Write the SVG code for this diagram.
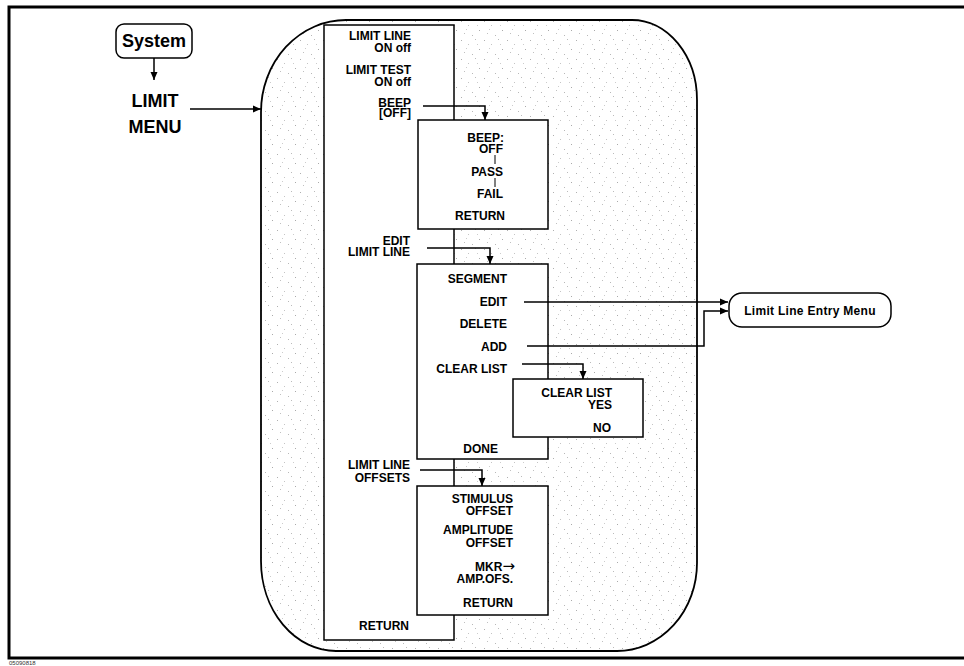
<svg xmlns="http://www.w3.org/2000/svg" width="964" height="666" viewBox="0 0 964 666">
<defs>
<style>
.t{font-family:"Liberation Sans",Arial,sans-serif;font-weight:bold;font-size:12px;fill:#000;text-anchor:end}
.big{font-family:"Liberation Sans",Arial,sans-serif;font-weight:bold;font-size:18px;fill:#000;text-anchor:middle}
.box{fill:#fff;stroke:#000;stroke-width:1.5}
.ln{fill:none;stroke:#000;stroke-width:1.5}
.ar{font-family:"DejaVu Sans",sans-serif;font-weight:normal;font-size:15px}
</style>
<pattern id="stip" width="23" height="19" patternUnits="userSpaceOnUse">
<rect width="23" height="19" fill="#fff"/>
<rect x="1" y="2" width="1" height="1" fill="#b0b0b0"/>
<rect x="8" y="6" width="1" height="1" fill="#c4c4c4"/>
<rect x="15" y="1" width="1" height="1" fill="#bbb"/>
<rect x="19" y="11" width="1" height="1" fill="#aaa"/>
<rect x="4" y="14" width="1" height="1" fill="#c0c0c0"/>
<rect x="12" y="16" width="1" height="1" fill="#b8b8b8"/>
<rect x="17" y="6" width="1" height="1" fill="#ccc"/>
<rect x="6" y="10" width="1" height="1" fill="#ccc"/>
</pattern>
<marker id="ah" viewBox="0 0 8 8" refX="8" refY="4" markerWidth="8" markerHeight="8" markerUnits="userSpaceOnUse" orient="auto">
<path d="M0,0.5 L8,4 L0,7.5 z" fill="#000"/>
</marker>
</defs>

<rect x="9" y="7" width="962" height="651" fill="none" stroke="#000" stroke-width="3"/>
<text x="9" y="665" style="font-family:'Liberation Sans',Arial,sans-serif;font-size:6px;fill:#333">05090818</text>

<g id="system">
<rect x="116" y="24" width="76" height="34" rx="8" class="box"/>
<text x="154" y="47" style="font-family:'Liberation Sans',Arial,sans-serif;font-weight:bold;font-size:18px;text-anchor:middle">System</text>
</g>

<g id="limit-menu-label">
<text x="155" y="107" class="big">LIMIT</text>
<text x="155" y="133" class="big">MENU</text>
</g>

<g id="region">
<path d="M346,20 H632 A65,80 0 0 1 697,100 V563 A80,88 0 0 1 617,651 H336 A75,90 0 0 1 261,561 V112 A85,92 0 0 1 346,20 Z" fill="url(#stip)" stroke="#000" stroke-width="1.8"/>
</g>

<g id="limit-menu">
<rect x="324" y="25" width="130" height="615" class="box"/>
<text x="411" y="40" class="t">LIMIT LINE</text>
<text x="411" y="51.5" class="t">ON off</text>
<text x="411" y="74" class="t">LIMIT TEST</text>
<text x="411" y="85.5" class="t">ON off</text>
<text x="411" y="106.5" class="t">BEEP</text>
<text x="411" y="117" class="t">[OFF]</text>
<text x="410" y="244.5" class="t">EDIT</text>
<text x="410" y="256" class="t">LIMIT LINE</text>
<text x="410" y="469" class="t">LIMIT LINE</text>
<text x="410" y="481.5" class="t">OFFSETS</text>
<text x="409" y="630" class="t">RETURN</text>
</g>

<g id="beep-menu">
<rect x="418" y="120" width="130" height="109" class="box"/>
<text x="504" y="141.5" class="t">BEEP:</text>
<text x="503" y="153" class="t">OFF</text>
<line x1="495" y1="155" x2="495" y2="164" stroke="#000" stroke-width="1"/>
<text x="503" y="175.5" class="t">PASS</text>
<line x1="495" y1="178" x2="495" y2="187" stroke="#000" stroke-width="1"/>
<text x="503" y="197.5" class="t">FAIL</text>
<text x="505" y="219.5" class="t">RETURN</text>
</g>

<g id="segment-menu">
<rect x="417" y="264" width="131" height="195" class="box"/>
<text x="507" y="282.5" class="t">SEGMENT</text>
<text x="507" y="305.5" class="t">EDIT</text>
<text x="507" y="327.5" class="t">DELETE</text>
<text x="507" y="350.5" class="t">ADD</text>
<text x="507" y="372.5" class="t">CLEAR LIST</text>
<text x="498" y="452.5" class="t">DONE</text>
</g>

<g id="clear-list-menu">
<rect x="513" y="379" width="130" height="58" class="box"/>
<text x="612" y="397" class="t">CLEAR LIST</text>
<text x="612" y="409" class="t">YES</text>
<text x="611" y="431.5" class="t">NO</text>
</g>

<g id="offsets-menu">
<rect x="417" y="486" width="131" height="129" class="box"/>
<text x="513" y="502.5" class="t">STIMULUS</text>
<text x="513" y="515" class="t">OFFSET</text>
<text x="513" y="534" class="t">AMPLITUDE</text>
<text x="513" y="546.5" class="t">OFFSET</text>
<text x="515" y="571" class="t">MKR<tspan class="ar">→</tspan></text>
<text x="513" y="583" class="t">AMP.OFS.</text>
<text x="513" y="606.5" class="t">RETURN</text>
</g>

<g id="limit-line-entry-menu">
<rect x="729" y="293" width="162" height="34" rx="13" class="box"/>
<text x="810" y="315" style="font-family:'Liberation Sans',Arial,sans-serif;font-weight:bold;font-size:12px;letter-spacing:0.3px;text-anchor:middle">Limit Line Entry Menu</text>
</g>

<g id="connectors">
<line x1="154" y1="58" x2="154" y2="80" class="ln" marker-end="url(#ah)"/>
<line x1="190" y1="109" x2="261" y2="109" class="ln" marker-end="url(#ah)"/>
<polyline points="423,106 485,106 485,120" class="ln" marker-end="url(#ah)"/>
<polyline points="427,248 490,248 490,264" class="ln" marker-end="url(#ah)"/>
<polyline points="522,364 583,364 583,379" class="ln" marker-end="url(#ah)"/>
<polyline points="420,470 482,470 482,486" class="ln" marker-end="url(#ah)"/>
<line x1="524" y1="302" x2="728" y2="302" class="ln" marker-end="url(#ah)"/>
<polyline points="527,346 704,346 704,311 728,311" class="ln" marker-end="url(#ah)"/>
</g>
</svg>
